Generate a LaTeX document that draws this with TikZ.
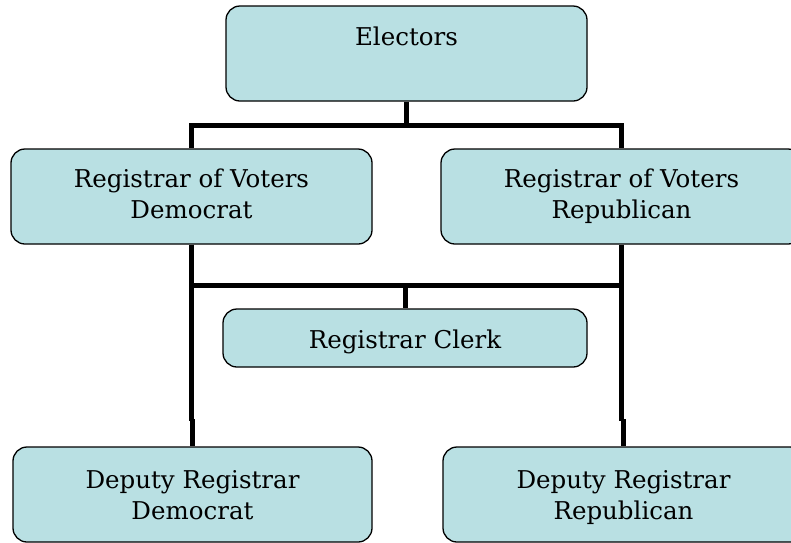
\documentclass[tikz,border=0pt]{standalone}
\usepackage{fontspec}
\setmainfont{DejaVu Serif}
\definecolor{boxfill}{RGB}{185,224,227}
\begin{document}
\begin{tikzpicture}[x=1pt,y=-1pt,
  txt/.style={inner sep=0pt, align=center, font=\fontsize{24.5}{31}\selectfont,
    text height=18pt, text depth=6pt},
  box/.style={txt, draw=black, line width=1.3pt, fill=boxfill, rounded corners=14pt},
  two/.style={text height=49pt, text depth=6pt},
  conn/.style={draw=black, line width=5pt, line join=miter}]
\clip (0,0) rectangle (791,542);
\fill[white] (0,0) rectangle (791,542);
% boxes
\node[box, minimum width=361pt, minimum height=95pt] (el) at (406.5,53.5) {};
\node[txt] (elt) at (406.5,39) {Electors};
\node[box, two, minimum width=361pt, minimum height=95pt] (rd) at (191.5,196.5) {Registrar of Voters\\Democrat};
\node[box, two, minimum width=361pt, minimum height=95pt] (rr) at (621.5,196.5) {Registrar of Voters\\Republican};
\node[box, text height=20pt, text depth=0pt, minimum width=364pt, minimum height=58pt] (cl) at (405,338) {Registrar Clerk};
\node[box, two, text depth=0pt, minimum width=359pt, minimum height=95pt] (dd) at (192.5,494.5) {Deputy Registrar\\Democrat};
\node[box, two, text depth=0pt, minimum width=361pt, minimum height=95pt] (dr) at (623.5,494.5) {Deputy Registrar\\Republican};
% connectors
\coordinate (b1) at (406.5,125.5);
\coordinate (b2) at (405,285);
\draw[conn] (el.south) -- (b1);
\draw[conn] (rd.north) |- (b1) -| (rr.north);
\draw[conn] (rd.south) |- (b2) -| (rr.south);
\draw[conn] (b2) -- (cl.north);
\draw[conn] (rd.south) -- ([yshift=25pt]dd.north -| rd.south);
\draw[conn] ([yshift=27pt]dd.north) -- (dd.north);
\draw[conn] (rr.south) -- ([yshift=25pt]dr.north -| rr.south);
\draw[conn] ([yshift=27pt]dr.north) -- (dr.north);
\end{tikzpicture}
\end{document}
